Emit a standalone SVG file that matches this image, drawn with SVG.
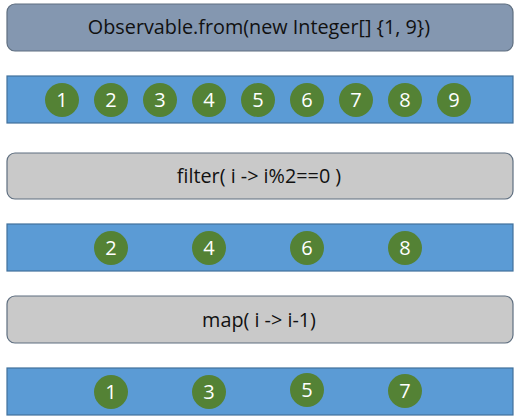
<svg xmlns="http://www.w3.org/2000/svg" width="519" height="420" viewBox="0 0 519 420">
<style>
.op{stroke:#5f6f80;stroke-width:1.2}
.src{fill:#8497b0}
.gray{fill:#c9c9c9}
.bar{fill:#5b9bd5;stroke:#41719c;stroke-width:1.2}
.lbl{font-family:"Open Sans","Liberation Sans",sans-serif;font-size:19.8px;fill:#111;text-anchor:middle}
.dot circle{fill:#548235}
.dot text{font-family:"Open Sans","Liberation Sans",sans-serif;font-size:20px;fill:#fff;text-anchor:middle}
</style>
<rect width="519" height="420" fill="#fff"/>
<g id="source">
<rect class="op src" x="7" y="4" width="506" height="47" rx="8"/>
<text class="lbl" x="259" y="34">Observable.from(new Integer[] {1, 9})</text>
</g>
<g id="stream1">
<rect class="bar" x="7" y="76" width="506" height="47"/>
<g class="dot"><circle cx="62" cy="100" r="17"/><text x="62" y="107">1</text></g>
<g class="dot"><circle cx="111" cy="100" r="17"/><text x="111" y="107">2</text></g>
<g class="dot"><circle cx="160" cy="100" r="17"/><text x="160" y="107">3</text></g>
<g class="dot"><circle cx="209" cy="100" r="17"/><text x="209" y="107">4</text></g>
<g class="dot"><circle cx="258" cy="100" r="17"/><text x="258" y="107">5</text></g>
<g class="dot"><circle cx="307" cy="100" r="17"/><text x="307" y="107">6</text></g>
<g class="dot"><circle cx="356" cy="100" r="17"/><text x="356" y="107">7</text></g>
<g class="dot"><circle cx="405" cy="100" r="17"/><text x="405" y="107">8</text></g>
<g class="dot"><circle cx="454" cy="100" r="17"/><text x="454" y="107">9</text></g>
</g>
<g id="filter">
<rect class="op gray" x="7" y="153" width="506" height="46" rx="8"/>
<text class="lbl" x="259" y="183">filter( i -&gt; i%2==0 )</text>
</g>
<g id="stream2">
<rect class="bar" x="7" y="224" width="506" height="47"/>
<g class="dot"><circle cx="111" cy="248" r="17"/><text x="111" y="255">2</text></g>
<g class="dot"><circle cx="209" cy="248" r="17"/><text x="209" y="255">4</text></g>
<g class="dot"><circle cx="307" cy="248" r="17"/><text x="307" y="255">6</text></g>
<g class="dot"><circle cx="405" cy="248" r="17"/><text x="405" y="255">8</text></g>
</g>
<g id="map">
<rect class="op gray" x="7" y="296" width="506" height="47" rx="8"/>
<text class="lbl" x="259" y="327">map( i -&gt; i-1)</text>
</g>
<g id="stream3">
<rect class="bar" x="7" y="368" width="506" height="47"/>
<g class="dot"><circle cx="111" cy="392" r="17"/><text x="111" y="399">1</text></g>
<g class="dot"><circle cx="209" cy="392" r="17"/><text x="209" y="399">3</text></g>
<g class="dot"><circle cx="307" cy="390" r="17"/><text x="307" y="397">5</text></g>
<g class="dot"><circle cx="405" cy="391" r="17"/><text x="405" y="398">7</text></g>
</g>
<g id="connectors"/>
</svg>
